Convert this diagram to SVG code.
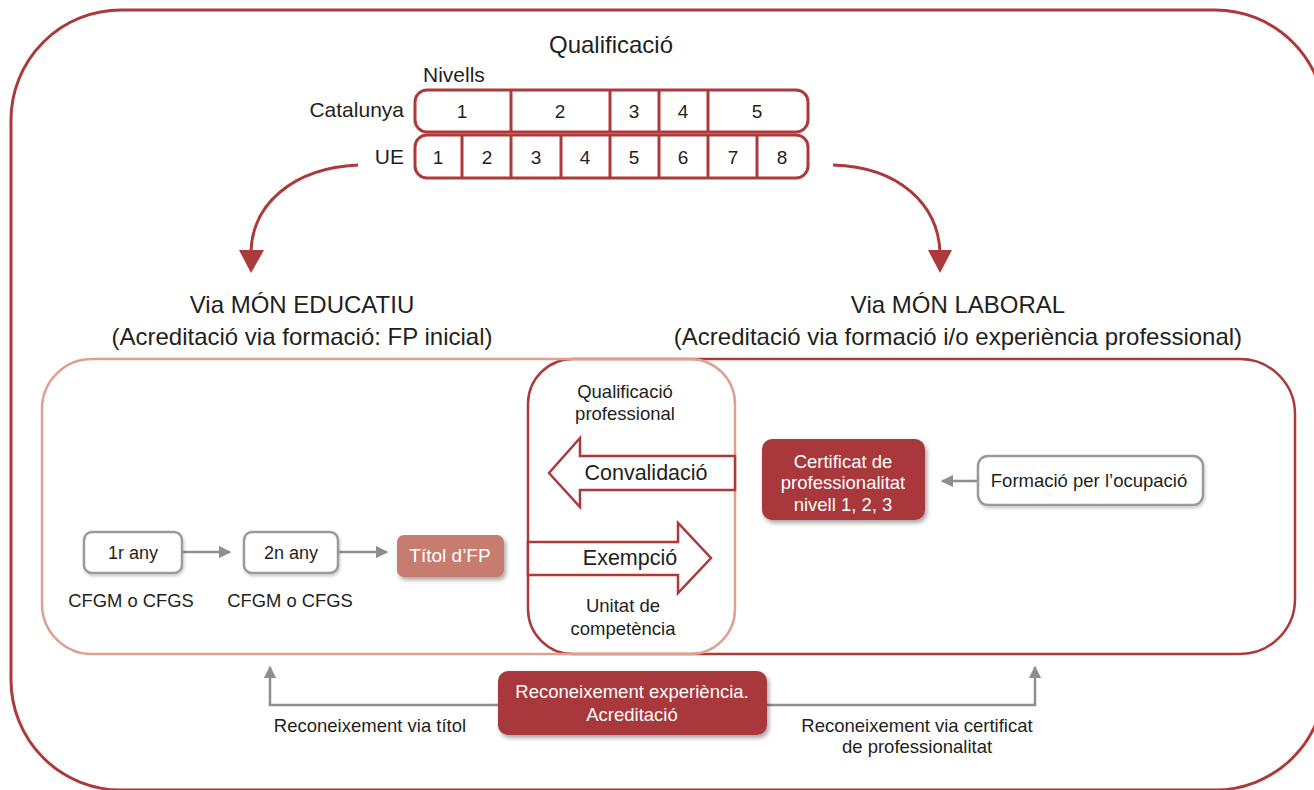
<svg xmlns="http://www.w3.org/2000/svg" width="1314" height="790" viewBox="0 0 1314 790">
<defs>
<style>
text{font-family:"Liberation Sans",Arial,sans-serif;fill:#231f20;}
.c{text-anchor:middle;}
.r{text-anchor:end;}
.w{fill:#ffffff;}
.red{fill:none;stroke:#ad3a3b;stroke-width:3;}
.gbox{fill:#ffffff;stroke:#9a9a9a;stroke-width:2.5;}
.gline{fill:none;stroke:#8e8e8e;stroke-width:2.5;}
.rfill{fill:#ad3a3b;}
.dark{fill:#a8383a;}
.salmon{fill:#c67b6e;}
.num{font-size:19px;}
</style>
<filter id="sh" x="-20%" y="-20%" width="150%" height="160%">
<feDropShadow dx="2" dy="3" stdDeviation="2" flood-color="#000" flood-opacity="0.35"/>
</filter>
<filter id="sh2" x="-20%" y="-20%" width="150%" height="160%">
<feDropShadow dx="1" dy="2" stdDeviation="1.5" flood-color="#000" flood-opacity="0.2"/>
</filter>
<marker id="ga" viewBox="0 0 10 10" refX="9" refY="5" markerWidth="5" markerHeight="5" orient="auto" markerUnits="strokeWidth">
<path d="M0,0 L10,5 L0,10 Z" fill="#8e8e8e"/>
</marker>
</defs>

<g id="frame">
<rect x="11" y="10" width="1314" height="780" rx="110" ry="110" fill="none" stroke="#ad3a3b" stroke-width="3"/>
</g>

<g id="qualificacio">
<text x="611" y="53" class="c" font-size="24">Qualificació</text>
<text x="423" y="82" font-size="21">Nivells</text>
<text x="404" y="117" class="r" font-size="21">Catalunya</text>
<text x="404" y="164" class="r" font-size="21">UE</text>
<rect x="415" y="90" width="393" height="42" rx="12" class="red"/>
<path d="M511,90V132M610,90V132M659,90V132M708,90V132" class="red"/>
<text x="462" y="118" class="c num">1</text>
<text x="560" y="118" class="c num">2</text>
<text x="634" y="118" class="c num">3</text>
<text x="683" y="118" class="c num">4</text>
<text x="757" y="118" class="c num">5</text>
<rect x="415" y="135" width="393" height="43" rx="12" class="red"/>
<path d="M462,135V178M511,135V178M561,135V178M610,135V178M659,135V178M708,135V178M757,135V178" class="red"/>
<text x="438" y="164" class="c num">1</text>
<text x="487" y="164" class="c num">2</text>
<text x="536" y="164" class="c num">3</text>
<text x="585" y="164" class="c num">4</text>
<text x="634" y="164" class="c num">5</text>
<text x="683" y="164" class="c num">6</text>
<text x="733" y="164" class="c num">7</text>
<text x="782" y="164" class="c num">8</text>
</g>

<g id="headings">
<text x="302" y="313" class="c" font-size="24">Via MÓN EDUCATIU</text>
<text x="302" y="345" class="c" font-size="24">(Acreditació via formació: FP inicial)</text>
<text x="958" y="313" class="c" font-size="24">Via MÓN LABORAL</text>
<text x="958" y="345" class="c" font-size="24">(Acreditació via formació i/o experiència professional)</text>
</g>

<g id="box-laboral">
<path d="M573,359 H1240 A55,55 0 0 1 1295,414 V599 A55,55 0 0 1 1240,654 H573 A45,45 0 0 1 528,609 V404 A45,45 0 0 1 573,359 Z" fill="none" stroke="#ad3a3b" stroke-width="2.5"/>
</g>
<g id="box-educatiu">
<path d="M92,359 H690 A45,45 0 0 1 735,404 V609 A45,45 0 0 1 690,654 H92 A50,50 0 0 1 42,604 V409 A50,50 0 0 1 92,359 Z" fill="none" stroke="#dea08f" stroke-width="2.5"/>
</g>

<g id="connectors">
<path d="M358,165 C292,168 252,205 251,252" class="red"/>
<path d="M239,250 L264,250 L251,273 Z" class="rfill"/>
<path d="M833,165 C900,167 938,205 940,252" class="red"/>
<path d="M928,250 L952,250 L940,273 Z" class="rfill"/>
<path d="M182,552 H230" class="gline" marker-end="url(#ga)"/>
<path d="M338,552 H387" class="gline" marker-end="url(#ga)"/>
<path d="M978,481 H942" class="gline" marker-end="url(#ga)"/>
<path d="M498,705 H270 V667" class="gline" marker-end="url(#ga)"/>
<path d="M767,705 H1035 V667" class="gline" marker-end="url(#ga)"/>
</g>

<g id="capsule">
<text x="625" y="398" class="c" font-size="18.5">Qualificació</text>
<text x="625" y="420" class="c" font-size="18.5">professional</text>
<text x="623" y="612" class="c" font-size="18.5">Unitat de</text>
<text x="623" y="635" class="c" font-size="18.5">competència</text>
</g>

<g id="convalidacio">
<polygon points="735,456 580,456 580,438 549,473 580,507 580,490 735,490" fill="#ffffff" stroke="#ad3a3b" stroke-width="2.5"/>
<text x="646" y="480" class="c" font-size="21.5">Convalidació</text>
</g>

<g id="exempcio">
<polygon points="528,542 678,542 678,523 711,558 678,593 678,575 528,575" fill="#ffffff" stroke="#ad3a3b" stroke-width="2.5"/>
<text x="630" y="565" class="c" font-size="21.5">Exempció</text>
</g>

<g id="any1">
<rect x="84" y="532" width="98" height="41" rx="8" class="gbox" filter="url(#sh2)"/>
<text x="133" y="559" class="c" font-size="18">1r any</text>
<text x="131" y="607" class="c" font-size="18.4">CFGM o CFGS</text>
</g>
<g id="any2">
<rect x="244" y="532" width="94" height="41" rx="8" class="gbox" filter="url(#sh2)"/>
<text x="291" y="559" class="c" font-size="18">2n any</text>
<text x="290" y="607" class="c" font-size="18.4">CFGM o CFGS</text>
</g>
<g id="titol">
<rect x="397" y="535" width="107" height="42" rx="7" class="salmon" filter="url(#sh)"/>
<text x="450" y="562" class="c w" font-size="19">Títol d’FP</text>
</g>

<g id="certificat">
<rect x="762" y="439" width="163" height="81" rx="10" class="dark" filter="url(#sh)"/>
<text x="843" y="468" class="c w" font-size="18.5">Certificat de</text>
<text x="843" y="489" class="c w" font-size="18.5">professionalitat</text>
<text x="843" y="511" class="c w" font-size="18.5">nivell 1, 2, 3</text>
</g>

<g id="formacio">
<rect x="978" y="456" width="225" height="49" rx="10" class="gbox" filter="url(#sh2)"/>
<text x="1089" y="487" class="c" font-size="18.5">Formació per l’ocupació</text>
</g>

<g id="reconeixement">
<rect x="498" y="671" width="269" height="64" rx="10" class="dark" filter="url(#sh)"/>
<text x="632" y="698" class="c w" font-size="18.5">Reconeixement experiència.</text>
<text x="632" y="721" class="c w" font-size="18.5">Acreditació</text>
</g>

<g id="labels">
<text x="370" y="732" class="c" font-size="18.5">Reconeixement via títol</text>
<text x="917" y="732" class="c" font-size="18.5">Reconeixement via certificat</text>
<text x="917" y="753" class="c" font-size="18.5">de professionalitat</text>
</g>
</svg>
